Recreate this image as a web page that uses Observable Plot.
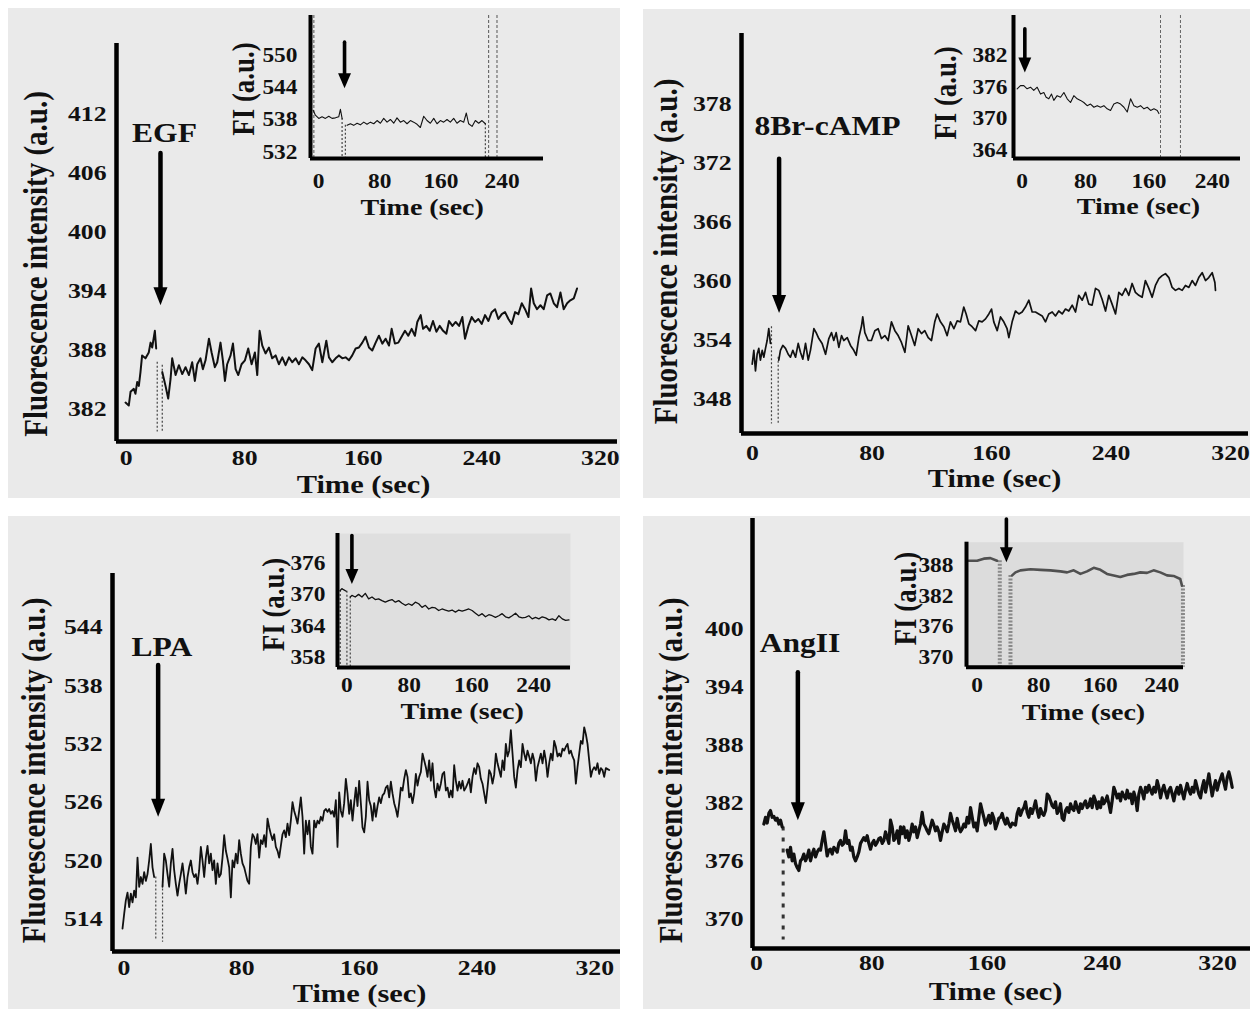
<!DOCTYPE html>
<html><head><meta charset="utf-8">
<script src="https://cdn.jsdelivr.net/npm/d3@7"></script>
<script src="https://cdn.jsdelivr.net/npm/@observablehq/plot@0.6"></script>
<style>
body{margin:0;background:#fff;}
#fig{position:relative;width:1250px;height:1009px;overflow:hidden;background:#fff;}
.panel{position:absolute;background:#eaeaea;}
.chart{position:absolute;}
</style></head>
<body><div id="fig"></div>
<script>
// ---------- tick labels ----------
const mainXTicks = [0, 80, 160, 240, 320];
const insetXTicks = [0, 80, 160, 240];
const egfYTicks = [382, 388, 394, 400, 406, 412];
const egfInsetYTicks = [532, 538, 544, 550];
const campYTicks = [348, 354, 360, 366, 372, 378];
const campInsetYTicks = [364, 370, 376, 382];
const lpaYTicks = [514, 520, 526, 532, 538, 544];
const lpaInsetYTicks = [358, 364, 370, 376];
const angYTicks = [370, 376, 382, 388, 394, 400];
const angInsetYTicks = [370, 376, 382, 388];

// ---------- treatment annotations ----------
const treatments = ["EGF", "8Br-cAMP", "LPA", "AngII"];
const labelTime = [25.9, 50.2, 25.8, 30.2];
const labelValue = [410.0, 375.7, 541.9, 398.5];
const arrowTime = [23.2, 17.8, 23.2, 28.7];
const arrowTop = [408.0, 372.4, 540.1, 395.5];
const arrowTip = [392.5, 356.7, 524.5, 380.2];
const insetArrowTime = [34.0, 3.3, 6.4, 38.0];
const insetArrowTop = [552.5, 387.1, 381.4, 397.2];
const insetArrowTip = [543.9, 378.8, 372.1, 388.7];

// ---------- EGF main trace ----------
const egfTime = [-0.4,1.8,3.0,5.2,6.3,7.5,8.6,9.7,10.8,13.1,15.3,16.5,17.6,19.4,20.3,22.4,
24.4,26.6,28.4,30.0,31.1,33.4,35.6,37.9,40.1,42.4,44.6,46.4,48.0,50.2,51.8,53.6,55.9,57.7,59.9,61.5,
63.7,65.3,66.7,68.2,70.5,72.1,73.9,75.7,77.9,80.2,82.4,84.7,86.9,88.5,90.1,91.9,94.1,96.4,98.6,100.9,
103.1,105.4,107.6,109.9,112.1,114.4,116.6,118.9,121.1,123.4,125.6,127.9,130.1,132.4,135.1,136.9,139.1,
141.4,143.6,145.9,148.1,150.4,152.6,154.9,157.1,159.4,161.6,163.9,166.1,168.4,170.6,172.9,175.1,177.4,
179.2,181.4,183.7,185.9,188.2,190.4,192.7,194.9,196.5,198.8,200.4,202.6,204.9,207.1,209.4,211.6,213.9,
216.1,217.9,220.2,222.4,224.7,226.9,228.7,231.0,233.2,235.5,237.7,240.0,242.2,244.5,246.7,249.0,251.2,
253.5,255.7,258.0,260.2,262.5,264.7,267.0,269.2,271.5,273.3,275.1,277.3,279.6,281.8,284.1,286.3,288.6,
290.8,293.1,295.3,297.6,299.8,302.1,304.3];
const egfValue = [382.6,382.3,383.7,384.0,383.5,384.7,384.3,385.7,387.4,387.1,387.7,388.7,388.2,389.9,388.1,NaN,
385.7,384.3,383.0,385.0,387.1,385.4,386.4,385.5,386.2,385.4,386.7,384.8,386.5,387.1,386.0,386.9,389.1,387.7,386.2,386.7,
388.7,386.9,384.8,386.5,387.4,388.6,386.0,385.4,386.5,386.9,388.1,386.5,387.7,385.4,389.9,388.4,387.6,388.2,387.1,387.4,
386.5,387.2,386.4,387.2,386.7,387.1,386.5,387.2,386.9,386.5,385.9,388.1,388.6,386.7,388.9,387.2,386.7,
387.1,387.4,387.1,387.2,386.9,387.4,388.1,388.2,388.7,389.3,388.2,387.9,388.7,389.4,388.6,389.1,388.4,
390.1,388.6,388.7,389.3,389.9,389.4,390.1,389.4,390.8,391.5,390.1,390.4,389.9,390.9,389.8,390.4,389.9,
389.6,390.9,390.4,390.8,390.4,391.3,389.1,390.4,391.3,390.8,391.1,390.6,391.5,390.9,391.8,392.1,391.1,
391.6,391.8,391.1,390.6,391.8,391.6,392.7,392.1,391.3,394.2,392.7,392.1,392.5,392.1,393.5,393.7,392.7,
392.3,393.8,392.1,392.7,393.0,393.2,394.2];
const egfDropTime = [21.0, 24.4];
const egfDropTop = [386.7, 386.4];
const egfDropBottom = [379.6, 379.6];

// ---------- EGF inset trace ----------
const egfInsetTime = [-7.0,-4.1,0.3,4.6,9.0,13.4,17.7,22.1,26.4,28.6,30.8,33.0,37.3,41.7,46.0,50.4,54.7,59.1,63.4,67.8,
72.2,76.5,80.9,85.2,89.6,93.9,98.3,102.6,107.0,111.4,115.7,120.1,124.4,128.8,133.1,137.5,141.8,146.2,150.6,154.9,
159.3,163.6,168.0,172.3,176.7,181.0,185.4,189.8,193.2,196.3,200.7,205.0,209.4,213.7,218.1];
const egfInsetValue = [539.8,538.9,538.3,538.6,538.3,538.7,538.3,538.4,538.6,540.0,538.3,NaN,537.0,537.3,537.0,537.4,537.1,537.6,537.2,537.6,
537.3,537.9,537.4,538.3,537.6,538.1,537.4,538.4,537.6,537.9,537.3,537.9,537.6,537.2,536.6,538.7,537.9,537.4,538.3,537.3,
537.9,537.6,538.1,537.6,538.3,537.4,537.9,537.6,539.3,537.3,536.8,537.9,537.4,537.9,537.3];
const egfInsetDropTime = [30.8, 35.1, 218.1];
const egfInsetDropTop = [538.3, 537.0, 537.3];
const egfInsetMarkerTime = [-6.1, 222.4, 233.3];

// ---------- 8Br-cAMP main trace ----------
const campTime = [-0.2,0.9,2.0,3.1,4.2,5.3,6.5,7.6,8.7,9.8,10.9,12.0,14.9,
17.6,18.7,20.3,22.1,23.9,25.4,27.0,28.8,30.6,32.1,33.7,35.5,37.3,38.8,41.1,42.6,44.4,46.6,48.9,51.1,52.9,
54.4,56.0,57.8,59.6,61.1,63.4,65.6,67.8,69.4,71.2,73.0,73.8,75.2,77.4,79.6,81.9,84.1,86.3,88.6,90.8,93.0,
95.3,97.5,99.7,102.0,104.2,106.4,108.6,110.9,113.1,115.3,117.6,119.8,122.0,123.6,125.8,128.1,130.3,132.5,
134.8,137.0,139.2,141.4,143.0,144.8,147.0,149.3,151.5,153.7,156.0,158.2,160.0,161.5,163.8,166.0,168.2,
170.4,171.6,173.8,176.0,178.3,180.5,182.7,185.0,187.2,189.4,191.6,193.9,196.1,198.3,200.6,202.8,205.0,
207.3,209.5,211.7,214.0,216.2,218.4,220.7,222.9,225.1,227.3,229.6,231.8,234.0,236.3,238.5,240.7,243.0,
245.2,247.4,249.7,251.9,254.1,256.3,258.6,260.8,263.0,265.3,267.5,269.7,272.0,274.2,276.4,278.7,280.9,
283.1,285.4,287.6,289.8,292.1,294.3,296.5,298.7,301.0,303.2,305.4,307.7,309.5,309.9];
const campValue = [351.5,352.9,350.8,352.5,353.1,351.9,352.9,352.2,353.1,353.9,355.1,353.6,NaN,
351.9,352.9,353.4,353.1,352.5,352.2,352.9,352.2,353.6,352.7,352.0,353.6,351.9,352.9,355.1,354.7,354.1,353.6,352.5,354.1,354.7,
353.9,354.7,353.2,354.4,353.9,354.2,353.4,352.9,352.4,354.2,355.4,356.3,354.7,353.9,353.9,354.9,355.1,354.1,354.4,353.9,355.8,
354.9,354.4,353.7,352.7,355.4,354.4,353.4,355.1,354.6,354.9,354.2,353.9,355.8,356.6,355.8,355.3,354.4,355.8,
355.1,355.9,355.8,357.3,356.6,355.6,355.3,354.9,355.9,355.8,356.1,356.6,357.1,355.8,354.9,356.3,355.8,
355.1,354.2,355.8,356.9,356.6,356.8,357.3,358.0,356.8,356.8,356.6,356.4,355.8,356.6,356.8,356.4,356.9,
356.6,357.1,356.9,357.5,356.8,358.5,358.0,358.8,357.6,357.5,359.2,359.0,358.1,356.9,358.5,357.6,356.6,
358.8,358.5,359.2,358.5,359.7,358.8,358.5,358.3,360.0,359.2,358.3,359.5,360.2,360.5,360.7,360.3,359.3,
359.0,359.2,359.0,359.5,359.3,360.0,359.5,360.3,360.8,360.0,360.3,360.8,359.8,359.0];
const campDropTime = [12.7, 17.2];
const campDropTop = [355.3, 352.2];
const campDropBottom = [345.4, 345.4];

// ---------- 8Br-cAMP inset trace ----------
const campInsetTime = [-6.4,-2.2,2.0,6.2,10.4,14.6,18.9,23.1,27.3,30.2,33.6,37.0,39.9,44.1,48.4,52.6,56.8,61.0,65.2,69.4,
73.6,77.8,82.0,86.3,90.5,94.7,98.9,103.1,107.3,111.5,115.7,120.0,124.2,128.4,132.6,136.8,141.0,145.2,149.4,153.7,
157.9,162.1,166.3,170.5,172.6];
const campInsetValue = [375.7,376.3,376.3,375.7,376.0,375.4,376.0,374.7,375.0,374.1,373.8,374.7,373.5,374.4,374.1,375.0,373.8,373.1,374.4,373.8,
373.5,373.1,372.5,372.8,372.2,372.5,372.2,372.5,371.9,371.6,372.8,373.1,372.8,372.2,371.3,373.8,372.5,372.2,372.5,371.9,
372.2,371.6,371.9,371.6,371.0];
const campInsetMarkerTime = [174.6, 199.8];

// ---------- LPA main trace (one reading every 1.133 s) ----------
const lpaStart = -1.02;
const lpaStep = 1.133;
const lpaValue = [
513.0,514.5,515.9,516.7,515.2,516.6,515.7,516.9,516.2,520.3,
517.3,518.3,517.6,518.8,517.9,518.6,520.0,521.7,519.3,518.3,
NaN,NaN,NaN,NaN,517.3,520.7,520.0,518.6,517.3,519.7,
521.2,519.0,517.6,516.4,517.6,518.6,519.7,518.3,516.6,518.3,
519.3,520.0,518.8,518.3,518.6,517.6,519.0,521.4,520.0,518.3,
520.3,521.5,519.7,520.7,519.0,520.0,517.6,519.7,518.3,518.6,
520.3,522.6,521.0,520.2,519.3,516.2,520.0,519.3,520.7,519.7,
522.1,520.7,519.7,519.3,518.6,517.9,517.6,521.4,522.7,522.4,
521.7,522.7,520.3,522.1,521.7,522.6,521.4,524.3,523.4,522.7,
522.1,522.7,521.4,521.0,520.3,521.5,522.7,523.1,522.4,523.8,
522.6,524.1,526.0,525.1,524.5,523.8,525.1,526.5,524.5,520.7,
524.1,522.7,524.1,521.4,520.7,524.1,523.4,524.1,523.8,524.5,
524.1,525.1,525.3,525.0,525.3,524.8,525.1,524.5,526.2,521.4,
527.0,525.1,524.5,525.9,528.4,526.9,524.8,526.2,524.1,525.9,
527.5,525.6,528.2,525.9,523.4,522.9,524.5,528.1,526.2,525.6,
524.1,525.9,524.5,525.6,526.5,525.9,526.7,526.9,527.5,527.7,
526.5,528.1,526.9,525.9,525.3,524.5,525.9,527.5,527.2,528.4,
529.3,528.6,526.5,526.9,525.9,526.9,528.9,527.7,528.6,529.1,
531.0,530.3,529.6,528.6,530.3,528.2,530.0,527.5,526.5,527.9,
527.2,527.9,528.9,529.1,527.2,527.5,526.5,527.2,526.5,529.8,
528.2,527.2,528.1,527.4,528.2,527.2,527.5,527.9,528.4,527.0,
528.6,529.5,528.9,530.0,529.6,528.4,527.9,526.9,525.9,527.5,
529.3,528.9,527.9,528.8,531.0,530.0,529.3,528.6,530.3,529.3,
532.0,530.7,531.3,533.4,531.0,528.6,527.5,529.3,530.3,529.6,
532.0,531.0,530.3,531.3,530.7,530.0,531.0,530.3,528.2,529.6,
530.3,531.0,530.0,531.3,530.3,528.6,530.0,531.0,530.3,532.3,
531.7,530.7,531.0,530.7,531.5,531.3,531.7,532.0,531.0,531.3,
530.7,530.3,527.9,529.6,531.0,532.3,532.0,533.7,533.0,532.0,
530.3,528.6,529.3,529.6,529.3,530.0,528.9,529.5,529.3,528.6,
529.5,529.4,529.3];
const lpaDropTime = [21.6, 26.2];
const lpaDropTop = [518.3, 517.9];
const lpaDropBottom = [511.8, 511.6];

// ---------- LPA inset trace ----------
const lpaInsetTime = [-8.6,-6.5,-4.4,-0.9,2.0,4.3,6.4,
10.7,15.0,19.3,23.6,27.9,32.2,36.4,40.7,45.0,49.3,53.6,57.9,62.2,66.5,70.8,75.0,79.3,83.6,87.9,92.2,
96.5,100.8,105.1,109.4,113.6,117.9,122.2,126.5,130.8,135.1,139.4,143.7,148.0,152.2,156.5,160.8,165.1,
169.4,173.7,178.0,182.3,186.6,190.8,195.1,199.4,203.7,208.0,212.3,216.6,220.9,225.2,229.4,233.7,238.0,
242.3,246.6,250.9,255.2,259.5,263.8,268.0,272.3,276.6,280.9,285.2];
const lpaInsetValue = [370.85,371.2,371.0,370.7,NaN,369.6,369.9,
369.6,370.1,369.6,370.3,369.25,369.6,369.1,369.25,368.9,368.6,368.9,369.1,368.6,368.9,368.4,368.0,368.3,368.0,368.6,368.3,
367.6,368.0,367.3,367.6,367.5,367.0,367.3,367.1,366.9,367.1,366.7,367.1,366.9,367.1,367.3,367.0,366.5,
366.0,366.4,365.8,366.2,366.0,365.7,366.0,366.4,365.8,365.6,366.0,366.5,365.8,365.6,365.7,366.0,365.4,
365.7,365.4,365.8,365.6,365.2,365.4,365.1,366.0,365.4,365.1,365.2];
const lpaInsetDropTime = [-8.6, 0.0, 4.3];
const lpaInsetDropTop = [370.85, 370.7, 369.6];

// ---------- AngII main trace (one reading every 1.157 s) ----------
const angStart = 5.09;
const angStep = 1.1566;
const angValue = [
379.8,380.5,379.9,380.9,381.2,380.5,380.6,380.2,380.4,379.8,
380.2,379.5,NaN,NaN,377.1,376.4,377.4,376.0,376.7,375.7,
375.3,375.0,376.0,376.2,376.7,376.0,376.4,377.1,376.0,376.7,
377.2,376.4,376.9,377.2,377.1,378.1,379.0,377.8,376.5,377.1,
377.2,376.7,377.4,377.2,376.9,377.8,378.1,377.6,377.8,379.1,
377.8,378.1,377.1,377.4,376.4,376.0,376.4,376.9,377.8,378.1,
378.4,378.1,378.6,377.8,377.2,377.8,378.1,377.6,377.9,378.3,
378.4,377.8,378.1,379.0,378.4,377.8,380.2,379.5,378.1,378.4,
379.1,377.8,379.5,378.8,379.5,378.4,379.1,378.1,378.8,379.8,
379.0,379.5,378.4,379.1,379.8,381.0,379.8,379.5,379.1,378.8,
379.5,380.2,379.7,379.1,379.5,379.0,378.1,379.0,379.8,379.5,
379.0,379.8,380.9,380.2,379.7,379.1,380.4,379.5,379.0,379.3,
379.8,379.5,380.5,379.9,381.5,380.5,379.5,379.9,379.1,380.5,
381.9,381.2,380.5,379.7,380.2,380.7,379.9,380.9,380.4,379.3,
379.8,380.4,380.5,380.9,380.2,379.8,380.4,379.8,379.5,379.9,
379.8,379.7,380.9,381.4,380.7,381.2,381.5,382.1,381.0,380.5,
381.4,380.9,381.5,382.2,381.2,380.5,381.4,380.9,380.7,381.2,
382.9,382.7,382.2,381.7,381.5,382.1,380.9,381.2,381.9,380.4,
380.2,381.2,381.5,381.0,381.9,381.4,381.2,382.1,381.5,381.0,
381.9,381.4,381.9,382.2,381.5,381.7,382.4,381.5,382.7,382.2,
381.4,382.1,381.5,382.5,381.9,382.2,382.7,381.9,381.0,382.2,
383.6,383.1,382.5,382.9,382.2,383.1,382.7,382.4,383.3,382.5,
382.9,381.9,383.1,382.5,381.2,382.9,383.6,383.1,382.4,383.6,
383.1,383.8,383.3,382.9,383.6,383.1,384.3,383.6,382.5,383.3,
383.8,383.1,382.5,383.3,383.6,382.9,382.2,383.1,383.6,382.9,
383.8,383.1,382.4,383.3,384.0,383.3,382.9,383.6,383.1,384.3,
383.6,382.9,382.5,383.6,384.3,383.1,384.0,385.0,383.8,382.7,
383.6,384.3,383.3,384.0,384.5,385.0,384.1,383.4,384.6,385.2,
384.5,383.6];
const angDropTime = [18.5];
const angDropTop = [379.5];
const angDropBottom = [367.8];

// ---------- AngII inset trace ----------
const angInsetTime = [-10.9,-0.1,8.6,17.2,25.8,35.0,45.5,49.8,56.3,69.3,82.3,95.3,108.3,117.0,125.6,134.3,
142.9,151.6,160.3,168.9,177.6,186.2,194.9,203.6,212.2,220.9,229.5,238.2,246.9,255.5,264.2,266.4];
const angInsetValue = [389.0,389.0,389.4,389.5,389.0,NaN,386.1,386.7,387.1,387.3,387.2,387.1,386.9,386.7,387.1,386.4,
386.9,387.6,387.2,386.4,386.1,385.8,386.2,386.4,386.7,386.6,387.1,386.7,386.1,386.0,385.4,384.1];
const angInsetDropTime = [29.4, 43.3, 267.7];
const angInsetDropTop = [389.0, 386.1, 384.1];

// ================= drawing =================
const FONT = "'Liberation Serif','Times New Roman','DejaVu Serif',serif";
const STRETCH = 1.17;
const fig = document.getElementById("fig");

const zip = (ts, vs) => ts.map((t, i) => ({t, v: vs[i]}));
const uniform = (start, step, vs) => vs.map((v, i) => ({t: start + i * step, v}));
const segs = (ts, tops, bottoms) => ts.map((t, i) => ({t, top: tops[i], bottom: bottoms[i]}));

function headSymbol(ratio) {
  return {draw(ctx, size) {
    const r = Math.sqrt(size / Math.PI), hw = r * ratio;
    ctx.moveTo(0, 0); ctx.lineTo(-hw, -r); ctx.lineTo(hw, -r); ctx.closePath();
  }};
}
const mainHead = headSymbol(0.39);
const insetHead = headSymbol(0.43);

[[8, 8, 612, 490], [643, 9, 607, 489], [8, 516, 612, 493], [643, 516, 607, 493]].forEach(([x, y, w, h]) => {
  const d = document.createElement("div");
  d.className = "panel";
  Object.assign(d.style, {left: x + "px", top: y + "px", width: w + "px", height: h + "px"});
  fig.appendChild(d);
});

function txt(opts) {
  return {fontFamily: FONT, fontWeight: "bold", fill: "#111", ...opts};
}

function draw(c) {
  const xd = c.xDomain, yd = c.yDomain;
  const marks = [];
  if (c.fill) marks.push(Plot.frame({fill: c.fill, stroke: "none"}));
  (c.markers || []).forEach(m => marks.push(Plot.ruleX(m.data, {stroke: m.stroke, strokeWidth: m.width, strokeDasharray: m.dash})));
  (c.drops || []).forEach(m => marks.push(Plot.ruleX(m.data, {x: "t", y1: "top", y2: "bottom", stroke: m.stroke, strokeWidth: m.width, strokeDasharray: m.dash})));
  marks.push(Plot.line(c.data, {x: "t", y: "v", stroke: c.lineColor || "#111", strokeWidth: c.lw, strokeLinejoin: "round", strokeLinecap: "round"}));
  marks.push(Plot.ruleX([xd[0]], {stroke: "#000", strokeWidth: c.axisW}));
  marks.push(Plot.ruleY([yd[0]], {stroke: "#000", strokeWidth: c.axisW}));
  marks.push(Plot.text(c.yTicks, txt({y: d => d, text: d => String(d), frameAnchor: "left", textAnchor: "end", lineAnchor: "middle", dx: c.yTickDx, fontSize: c.tickSize})));
  marks.push(Plot.text(c.xTicks, txt({x: d => d, text: d => String(d), frameAnchor: "bottom", textAnchor: "middle", lineAnchor: "middle", dy: c.xTickDy, fontSize: c.tickSize})));
  marks.push(Plot.text(["Time (sec)"], txt({frameAnchor: "bottom", textAnchor: "middle", lineAnchor: "middle", dx: c.xTitle[0], dy: c.xTitle[1], fontSize: c.xTitleSize})));
  marks.push(Plot.text([c.yTitleText], txt({frameAnchor: "left", textAnchor: "middle", lineAnchor: "middle", rotate: -90, dx: c.yTitle[0], dy: c.yTitle[1], fontSize: c.yTitleSize})));
  if (c.label) marks.push(Plot.text([c.label], txt({x: "t", y: "v", text: "name", textAnchor: "middle", lineAnchor: "middle", fontSize: c.labelSize})));
  marks.push(Plot.arrow([c.arrow], {x1: "t", x2: "t", y1: "top", y2: "tip", stroke: "#000", strokeWidth: c.shaftW, headLength: 0, insetEnd: c.headR - 3}));
  marks.push(Plot.dot([c.arrow], {x: "t", y: "tip", symbol: c.head, r: c.headR, fill: "#000", stroke: "none"}));

  const b = c.box, a = c.area;
  const svg = Plot.plot({
    width: b.w, height: b.h,
    marginLeft: a.x0 - b.x, marginRight: b.x + b.w - a.x1,
    marginTop: a.y0 - b.y, marginBottom: b.y + b.h - a.y1,
    x: {domain: xd, axis: null},
    y: {domain: yd, axis: null},
    style: {background: "transparent", overflow: "visible", maxWidth: "none"},
    marks
  });
  svg.querySelectorAll("text").forEach(t => {
    const tr = t.getAttribute("transform") || "";
    t.setAttribute("transform", tr + (tr.includes("rotate") ? ` scale(1,${STRETCH})` : ` scale(${STRETCH},1)`));
  });
  const div = document.createElement("div");
  div.className = "chart";
  Object.assign(div.style, {left: b.x + "px", top: b.y + "px", width: b.w + "px", height: b.h + "px"});
  div.appendChild(svg);
  fig.appendChild(div);
}

const mainStyle = {tickSize: 22, xTitleSize: 26, yTitleSize: 29, labelSize: 27, axisW: 4.5, shaftW: 4.5, head: mainHead, headR: 18,
  xTicks: mainXTicks, yTitleText: "Fluorescence intensity (a.u.)"};
const insetStyle = {tickSize: 20, xTitleSize: 24, yTitleSize: 27, axisW: 4, shaftW: 3.6, head: insetHead, headR: 15,
  xTicks: insetXTicks, yTitleText: "FI (a.u.)", lw: 1.1};
const dotted = (data) => ({data, stroke: "#444", width: 1.2, dash: "2,2"});
const ann = (i) => ({name: treatments[i], t: labelTime[i], v: labelValue[i]});
const arr = (i) => ({t: arrowTime[i], top: arrowTop[i], tip: arrowTip[i]});
const iarr = (i) => ({t: insetArrowTime[i], top: insetArrowTop[i], tip: insetArrowTip[i]});

// ---- EGF ----
draw({...mainStyle, box: {x: 0, y: 0, w: 630, h: 505}, area: {x0: 116, x1: 617, y0: 43, y1: 441},
  xDomain: [-6.48, 331.6], yDomain: [378.64, 419.13], yTicks: egfYTicks, yTickDx: -10, xTickDy: 16,
  xTitle: [-3.5, 43], yTitle: [-80, 21.5], data: zip(egfTime, egfValue), lw: 2.0,
  drops: [dotted(segs(egfDropTime, egfDropTop, egfDropBottom))], label: ann(0), arrow: arr(0)});
draw({...insetStyle, box: {x: 225, y: 0, w: 335, h: 230}, area: {x0: 310, x1: 543, y0: 15, y1: 158},
  xDomain: [-10.5, 294.1], yDomain: [530.83, 557.46], yTicks: egfInsetYTicks, yTickDx: -13, xTickDy: 23,
  xTitle: [-4.8, 49], yTitle: [-67, 2], data: zip(egfInsetTime, egfInsetValue),
  markers: [{data: egfInsetMarkerTime, stroke: "#555", width: 1, dash: "3,2"}],
  drops: [dotted(segs(egfInsetDropTime, egfInsetDropTop, egfInsetDropTime.map(() => 530.83)))], arrow: iarr(0)});

// ---- 8Br-cAMP ----
draw({...mainStyle, box: {x: 640, y: 0, w: 610, h: 505}, area: {x0: 741, x1: 1248, y0: 33, y1: 433},
  xDomain: [-7.36, 332.0], yDomain: [344.44, 385.13], yTicks: campYTicks, yTickDx: -10, xTickDy: 19.5,
  xTitle: [-0.5, 45.5], yTitle: [-75, 18], data: zip(campTime, campValue), lw: 1.7,
  drops: [dotted(segs(campDropTime, campDropTop, campDropBottom))], label: ann(1), arrow: arr(1)});
draw({...insetStyle, box: {x: 900, y: 0, w: 350, h: 230}, area: {x0: 1013, x1: 1240, y0: 15, y1: 158},
  xDomain: [-11.0, 275.6], yDomain: [362.48, 389.6], yTicks: campInsetYTicks, yTickDx: -6, xTickDy: 23,
  xTitle: [11.5, 48], yTitle: [-68, 6], data: zip(campInsetTime, campInsetValue),
  markers: [{data: campInsetMarkerTime, stroke: "#666", width: 1, dash: "3,2"}], arrow: iarr(1)});

// ---- LPA ----
draw({...mainStyle, box: {x: 0, y: 510, w: 630, h: 499}, area: {x0: 112, x1: 620, y0: 573, y1: 951},
  xDomain: [-7.82, 337.5], yDomain: [510.64, 549.52], yTicks: lpaYTicks, yTickDx: -10, xTickDy: 16,
  xTitle: [-7, 42.5], yTitle: [-78, 8], data: uniform(lpaStart, lpaStep, lpaValue), lw: 1.8,
  drops: [dotted(segs(lpaDropTime, lpaDropTop, lpaDropBottom))], label: ann(2), arrow: arr(2)});
draw({...insetStyle, box: {x: 240, y: 515, w: 345, h: 215}, area: {x0: 337, x1: 570, y0: 533, y1: 667},
  xDomain: [-12.1, 287.2], yDomain: [356.07, 381.78], yTicks: lpaInsetYTicks, yTickDx: -12, xTickDy: 18.5,
  xTitle: [8.2, 43.5], yTitle: [-64, 4], data: zip(lpaInsetTime, lpaInsetValue), lw: 1.3, fill: "#dfdfdf",
  drops: [dotted(segs(lpaInsetDropTime, lpaInsetDropTop, lpaInsetDropTime.map(() => 356.07)))], arrow: iarr(2)});

// ---- AngII ----
draw({...mainStyle, box: {x: 640, y: 510, w: 610, h: 499}, area: {x0: 752, x1: 1250, y0: 518, y1: 948},
  xDomain: [-2.78, 342.8], yDomain: [366.93, 411.4], yTicks: angYTicks, yTickDx: -9, xTickDy: 14,
  xTitle: [-6, 43.5], yTitle: [-81, 37], data: uniform(angStart, angStep, angValue), lw: 3.2,
  drops: [{data: segs(angDropTime, angDropTop, angDropBottom), stroke: "#333", width: 3, dash: "4,7"}], label: ann(3), arrow: arr(3)});
draw({...insetStyle, box: {x: 880, y: 515, w: 320, h: 215}, area: {x0: 966, x1: 1183, y0: 541.7, y1: 666.7},
  xDomain: [-13.9, 268.4], yDomain: [368.03, 392.64], yTicks: angInsetYTicks, yTickDx: -13, xTickDy: 18.3,
  xTitle: [8.5, 45], yTitle: [-61, -6], data: zip(angInsetTime, angInsetValue), lw: 2.6, lineColor: "#505050", fill: "#dcdcdc",
  drops: [{data: segs(angInsetDropTime, angInsetDropTop, angInsetDropTime.map(() => 368.03)), stroke: "#8a8a8a", width: 4, dash: "2,1.5"}], arrow: iarr(3)});
</script></body></html>
